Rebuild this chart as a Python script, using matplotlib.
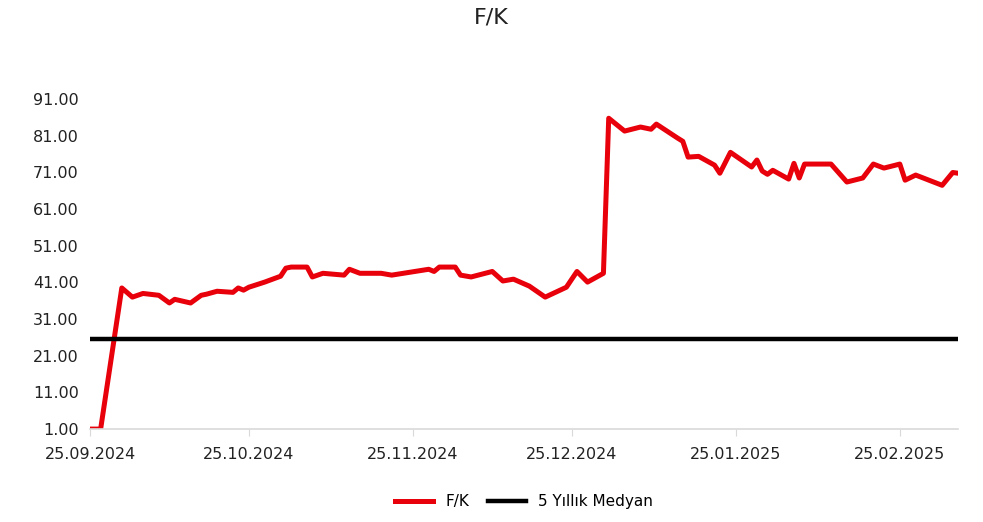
import matplotlib
matplotlib.use("Agg")
import matplotlib.pyplot as plt
import matplotlib.dates as mdates
import pandas as pd

# F/K series
fk_dates = [
    "2024-09-25", "2024-09-27", "2024-10-01", "2024-10-03", "2024-10-05",
    "2024-10-08", "2024-10-10", "2024-10-11", "2024-10-14", "2024-10-16",
    "2024-10-17", "2024-10-19", "2024-10-22", "2024-10-23", "2024-10-24",
    "2024-10-25", "2024-10-28", "2024-10-31", "2024-11-01", "2024-11-02",
    "2024-11-05", "2024-11-06", "2024-11-08", "2024-11-12", "2024-11-13",
    "2024-11-15", "2024-11-19", "2024-11-21", "2024-11-28", "2024-11-29",
    "2024-11-30", "2024-12-03", "2024-12-04", "2024-12-06", "2024-12-10",
    "2024-12-12", "2024-12-14", "2024-12-17", "2024-12-20", "2024-12-24",
    "2024-12-26", "2024-12-28", "2024-12-31", "2025-01-01", "2025-01-04",
    "2025-01-07", "2025-01-09", "2025-01-10", "2025-01-14", "2025-01-15",
    "2025-01-16", "2025-01-18", "2025-01-21", "2025-01-22", "2025-01-24",
    "2025-01-28", "2025-01-29", "2025-01-30", "2025-01-31", "2025-02-01",
    "2025-02-04", "2025-02-05", "2025-02-06", "2025-02-07", "2025-02-12",
    "2025-02-15", "2025-02-18", "2025-02-20", "2025-02-22", "2025-02-25",
    "2025-02-26", "2025-02-28", "2025-03-05", "2025-03-07", "2025-03-08",
]
fk_values = [
    1.0, 1.0, 39.5, 37.0, 38.0,
    37.5, 35.4, 36.4, 35.4, 37.5,
    37.8, 38.6, 38.3, 39.5, 38.9,
    39.7, 41.1, 42.7, 44.9, 45.2,
    45.2, 42.5, 43.5, 43.0, 44.6,
    43.5, 43.5, 43.0, 44.6, 44.0,
    45.2, 45.2, 43.0, 42.5, 44.0,
    41.4, 41.9, 40.0, 37.0, 39.7,
    44.0, 41.1, 43.5, 85.8, 82.3,
    83.4, 82.8, 84.2, 80.4, 79.5,
    75.2, 75.4, 73.0, 70.8, 76.5,
    72.5, 74.4, 71.4, 70.5, 71.6,
    69.2, 73.5, 69.5, 73.3, 73.3,
    68.4, 69.5, 73.3, 72.2, 73.3,
    68.9, 70.3, 67.5, 71.0, 70.8,
]
median_value = 25.5

tick_dates = ["2024-09-25", "2024-10-25", "2024-11-25", "2024-12-25",
              "2025-01-25", "2025-02-25"]
y_ticks = [1, 11, 21, 31, 41, 51, 61, 71, 81, 91]

df = pd.DataFrame({"date": pd.to_datetime(fk_dates), "fk": fk_values})
df["median"] = median_value

fig = plt.figure(figsize=(9.83, 5.22), dpi=100)
ax = fig.add_axes([0.0916, 0.178, 0.883, 0.632])

ax.plot(df["date"], df["fk"], color="#e8000b", lw=3.6, label="F/K",
        solid_joinstyle="round")
ax.plot(df["date"], df["median"], color="black", lw=3.2,
        label="5 Yıllık Medyan")

ax.set_xlim(pd.Timestamp("2024-09-25"), pd.Timestamp("2025-03-08"))
ax.set_ylim(1, 91)
ax.set_yticks(y_ticks)
ax.set_yticklabels([f"{v:.2f}" for v in y_ticks])
ax.set_xticks(pd.to_datetime(tick_dates))
ax.xaxis.set_major_formatter(mdates.DateFormatter("%d.%m.%Y"))

for s in ["top", "right", "left"]:
    ax.spines[s].set_visible(False)
ax.spines["bottom"].set_color("#d9d9d9")
ax.spines["bottom"].set_linewidth(1.2)
ax.tick_params(axis="y", length=0, labelsize=11.5, pad=8, colors="#222222")
ax.tick_params(axis="x", length=5, color="#d9d9d9", labelsize=11.5,
               pad=8, labelcolor="#222222")

fig.suptitle("F/K", y=0.985, fontsize=16, color="#222222")
ax.legend(loc="center", bbox_to_anchor=(0.5, -0.22), ncol=2,
          frameon=False, fontsize=11, handlelength=2.5, columnspacing=1.2)

fig.savefig("out.png", dpi=100)
